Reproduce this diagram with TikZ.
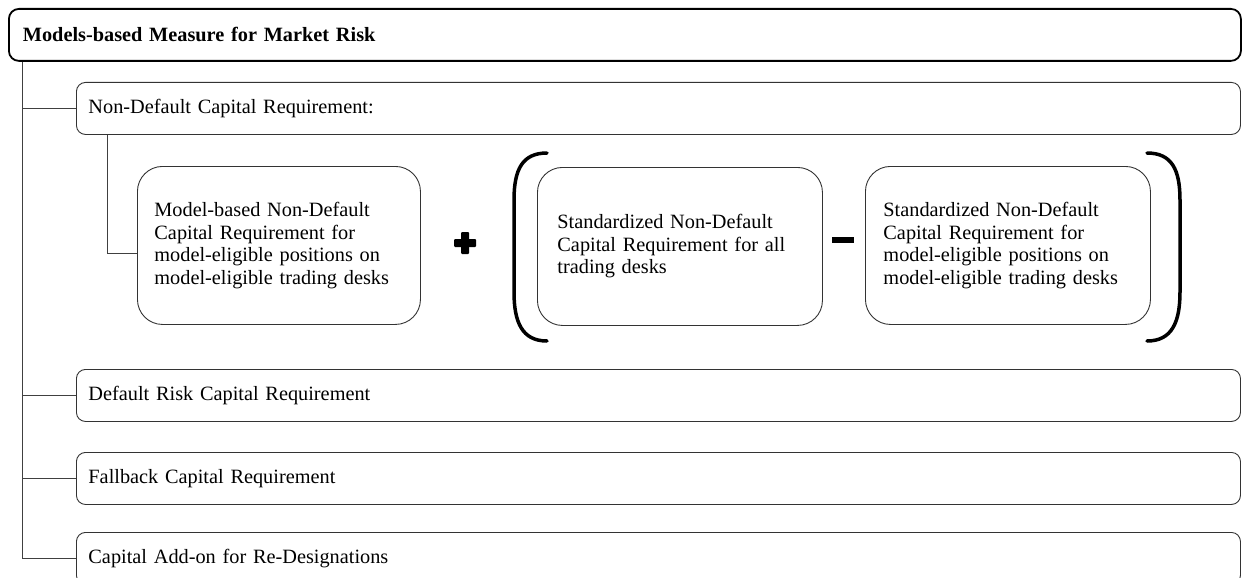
\documentclass[tikz,border=0pt]{standalone}
\usepackage{fontspec}
\setmainfont{Liberation Serif}
\usetikzlibrary{calc}
\begin{document}
\begin{tikzpicture}[x=1pt,y=-1pt,
  txt/.style={font=\fontsize{20.3}{22.5}\selectfont},
  titlebox/.style={txt,draw=black,line width=1.8pt,rounded corners=10pt,anchor=north west,align=left,
     inner xsep=14pt,inner ysep=0pt,text width=1204pt,minimum height=52pt},
  itembox/.style={txt,draw=black!80,line width=0.9pt,rounded corners=9pt,anchor=north west,align=left,
     inner xsep=12pt,inner ysep=0pt,text width=1140pt,minimum height=52pt},
  termbox/.style={txt,draw=black!80,line width=0.9pt,rounded corners=25pt,anchor=north west,align=left,
     inner ysep=0pt,minimum height=158pt},
  conn/.style={draw=black!75,line width=0.9pt},
  paren/.style={draw=black,line width=3.5pt,line cap=round}]
\useasboundingbox (0,0) rectangle (1243,578);
\clip (0,0) rectangle (1243,578);

\node[titlebox] (title) at (8,8) {\textbf{Models-based Measure for Market Risk}};
\node[itembox] (nd) at (76,82) {Non-Default Capital Requirement:};
\node[itembox] (dr) at (76,369) {Default Risk Capital Requirement};
\node[itembox] (fb) at (76,452) {Fallback Capital Requirement};
\node[itembox] (ao) at (76,532) {Capital Add-on for Re-Designations};

\node[termbox,inner xsep=17pt,text width=249pt] (mb) at (137,166)
  {Model-based Non-Default\\Capital Requirement for\\model-eligible positions on\\model-eligible trading desks};
\node[termbox,inner xsep=20pt,text width=245pt] (s1) at (537,167)
  {Standardized Non-Default\\Capital Requirement for all\\trading desks};
\node[termbox,inner xsep=18pt,text width=249pt] (s2) at (865,166)
  {Standardized Non-Default\\Capital Requirement for\\model-eligible positions on\\model-eligible trading desks};

% connectors
\coordinate (trunk) at (22,0);
\coordinate (sub) at (107,0);
\coordinate (mbin) at (137,253);
\draw[conn] (trunk |- title.south) |- (ao.west);
\draw[conn] (trunk |- nd.west) -- (nd.west);
\draw[conn] (trunk |- dr.west) -- (dr.west);
\draw[conn] (trunk |- fb.west) -- (fb.west);
\draw[conn] (sub |- nd.south) |- (mbin);

% plus and minus
\fill[black, rounded corners=1pt] (454,239) rectangle (476,247);
\fill[black, rounded corners=1pt] (461,232) rectangle (469,254);
\fill[black] (832,237) rectangle (854,243);

% parentheses
\draw[paren] (547,153) .. controls (522,153) and (514,170) .. (514,200) -- (514,292) .. controls (514,322) and (522,341) .. (547,341);
\draw[paren] (1147,153) .. controls (1172,153) and (1180,170) .. (1180,200) -- (1180,292) .. controls (1180,322) and (1172,341) .. (1147,341);
\end{tikzpicture}
\end{document}
